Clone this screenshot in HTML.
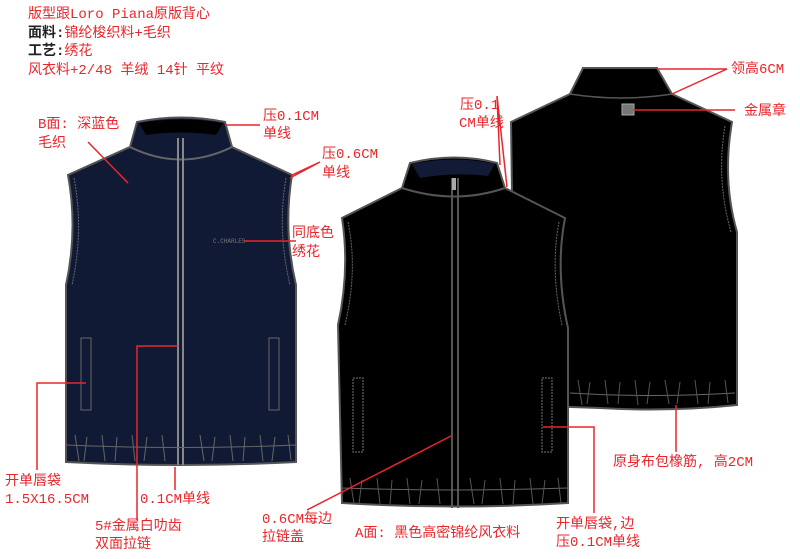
<!DOCTYPE html>
<html><head><meta charset="utf-8"><style>
body{margin:0;background:#fff;width:800px;height:559px;overflow:hidden}
svg{display:block}
text{font-family:"Liberation Mono","Noto Sans CJK SC",monospace;font-size:14px;fill:#e8262b}
.k{fill:#222;font-weight:bold}
</style></head><body>
<svg width="800" height="559" viewBox="0 0 800 559" xmlns="http://www.w3.org/2000/svg">
<!-- back vest -->
<path d="M583,68 L657,68 L672,94 L732,122 Q722,180 737,232 L737,405 Q670,412 600,408 L515,405 L511,122 L570,94 Z" fill="#000" stroke="#555" stroke-width="2"/>
<path d="M570,94 Q621,102 672,94" fill="none" stroke="#555" stroke-width="1.5"/>
<path d="M725,126 Q716,180 731,232" fill="none" stroke="#666" stroke-width="1" stroke-dasharray="2,1"/>
<rect x="622" y="104" width="12" height="11" fill="#777" stroke="#aaa"/>
<path d="M570,393 Q650,398 735,393" fill="none" stroke="#666" stroke-width="1"/>
<path d="M578,380 l4,25 M590,382 l-3,22 M605,380 l3,24 M620,382 l-2,22 M635,380 l3,25 M650,382 l-3,22 M665,380 l4,24 M680,382 l-3,22 M695,380 l3,24 M710,382 l-2,22 M725,380 l3,23" stroke="#555" stroke-width="1" fill="none"/>
<!-- black front vest -->
<path d="M410,163 Q455,152 497,163 L505,188 L565,218 Q555,270 568,328 L568,503 Q455,510 342,503 L338,325 Q350,270 342,218 L402,188 Z" fill="#000" stroke="#555" stroke-width="2"/>
<path d="M412,164 Q455,155 495,164 L488,176 Q455,172 420,178 Z" fill="#131a36"/>
<path d="M402,188 Q455,205 505,188" fill="none" stroke="#555" stroke-width="2"/>
<path d="M348,222 Q358,270 345,325 M559,222 Q550,270 562,325" fill="none" stroke="#666" stroke-width="1" stroke-dasharray="2,1"/>
<line x1="452" y1="178" x2="452" y2="508" stroke="#555" stroke-width="2"/>
<line x1="458" y1="178" x2="458" y2="508" stroke="#555" stroke-width="2"/>
<rect x="452" y="178" width="4" height="12" fill="#aaa"/>
<rect x="353" y="378" width="10" height="74" fill="none" stroke="#777" stroke-dasharray="2,1"/>
<rect x="542" y="378" width="10" height="74" fill="none" stroke="#777" stroke-dasharray="2,1"/>
<path d="M342,488 Q455,492 568,488" fill="none" stroke="#666" stroke-width="1"/>
<path d="M350,478 l4,26 M362,480 l-3,24 M377,478 l3,26 M392,480 l-2,24 M407,478 l3,26 M422,480 l-3,24 M437,478 l3,26 M470,478 l4,26 M485,480 l-3,24 M500,478 l3,26 M515,480 l-2,24 M530,478 l3,26 M545,480 l-3,24 M558,478 l3,25" stroke="#555" stroke-width="1" fill="none"/>
<!-- blue vest -->
<path d="M137,122 Q181,113 225,122 L232,147 L292,175 Q283,230 296,285 L296,462 Q181,468 66,462 L66,285 Q78,230 68,175 L130,147 Z" fill="#111a35" stroke="#555" stroke-width="2"/>
<path d="M139,123 Q181,116 223,123 L216,135 Q181,130 146,135 Z" fill="#000"/>
<path d="M130,147 Q181,172 232,147" fill="none" stroke="#666" stroke-width="2"/>
<path d="M74,178 Q84,230 72,285 M286,178 Q277,230 290,285" fill="none" stroke="#666" stroke-width="1" stroke-dasharray="2,1"/>
<line x1="178" y1="138" x2="178" y2="465" stroke="#888" stroke-width="2"/>
<line x1="183" y1="138" x2="183" y2="465" stroke="#888" stroke-width="2"/>
<rect x="81" y="338" width="10" height="72" fill="none" stroke="#666"/>
<rect x="269" y="338" width="10" height="72" fill="none" stroke="#666"/>
<path d="M66,445 Q181,450 296,445" fill="none" stroke="#666" stroke-width="1"/>
<path d="M75,435 l4,26 M87,437 l-3,24 M102,435 l3,26 M117,437 l-2,24 M132,435 l3,26 M147,437 l-3,24 M162,435 l3,26 M200,435 l4,26 M215,437 l-3,24 M230,435 l3,26 M245,437 l-2,24 M260,435 l3,26 M275,437 l-3,24 M288,435 l3,25" stroke="#666" stroke-width="1" fill="none"/>
<text x="213" y="243" style="font-size:6px;fill:#777">C.CHARLES</text>
<!-- red leader lines -->
<g stroke="#e8262b" stroke-width="1.5" fill="none">
<path d="M88,142 L128,183"/>
<path d="M225,125 L260,125"/>
<path d="M292,175 L320,162 M290,178 L320,162"/>
<path d="M244,241 L296,241"/>
<path d="M86,383 L37,383 L37,470"/>
<path d="M178,346 L137,346 L137,520"/>
<path d="M175,467 L175,490"/>
<path d="M451,436 L307,510"/>
<path d="M543,427 L594,427 L594,513"/>
<path d="M676,405 L676,452"/>
<path d="M658,69 L727,69 L672,94"/>
<path d="M633,110 L735,110"/>
<path d="M497,96 L500,165 M497,96 L507,187"/>
</g>
<!-- texts -->
<text x="28" y="18">版型跟Loro Piana原版背心</text>
<text x="28" y="37"><tspan class="k">面料:</tspan>锦纶梭织料+毛织</text>
<text x="28" y="55"><tspan class="k">工艺:</tspan>绣花</text>
<text x="28" y="74">风衣料+2/48 羊绒 14针 平纹</text>
<text x="38" y="128">B面: 深蓝色</text>
<text x="38" y="147">毛织</text>
<text x="263" y="120">压0.1CM</text>
<text x="263" y="138">单线</text>
<text x="322" y="158">压0.6CM</text>
<text x="322" y="177">单线</text>
<text x="292" y="237">同底色</text>
<text x="292" y="256">绣花</text>
<text x="5" y="485">开单唇袋</text>
<text x="5" y="503">1.5X16.5CM</text>
<text x="140" y="503">0.1CM单线</text>
<text x="95" y="530">5#金属白叻齿</text>
<text x="95" y="548">双面拉链</text>
<text x="262" y="523">0.6CM每边</text>
<text x="262" y="541">拉链盖</text>
<text x="355" y="537">A面: 黑色高密锦纶风衣料</text>
<text x="556" y="528">开单唇袋,边</text>
<text x="556" y="546">压0.1CM单线</text>
<text x="613" y="466">原身布包橡筋, 高2CM</text>
<text x="460" y="109">压0.1</text>
<text x="459" y="127">CM单线</text>
<text x="731" y="73">领高6CM</text>
<text x="744" y="115">金属章</text>
</svg>
</body></html>
